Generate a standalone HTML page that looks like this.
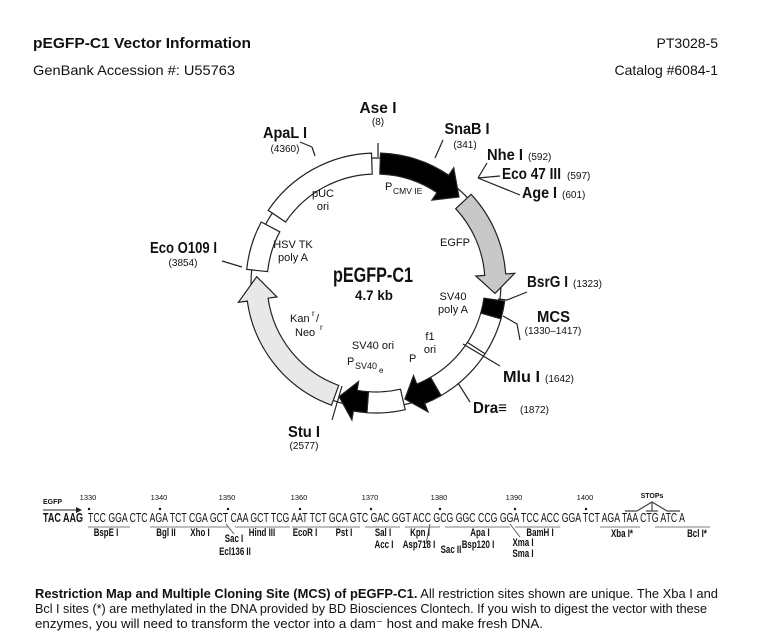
<!DOCTYPE html>
<html><head><meta charset="utf-8">
<style>
html,body{margin:0;padding:0;background:#fff;}
svg{display:block;}
text{font-family:"Liberation Sans",Arial,sans-serif;fill:#111;}
.b{font-weight:bold;}
</style></head>
<body>
<svg id="s" width="774" height="644" viewBox="0 0 774 644" xmlns="http://www.w3.org/2000/svg">
<text x="33" y="48" class="b" font-size="15" textLength="218" lengthAdjust="spacingAndGlyphs">pEGFP-C1 Vector Information</text>
<text x="718" y="48" font-size="14" text-anchor="end">PT3028-5</text>
<text x="33" y="75" font-size="14" textLength="202" lengthAdjust="spacingAndGlyphs">GenBank Accession #: U55763</text>
<text x="718" y="75" font-size="14" text-anchor="end">Catalog #6084-1</text>

<g id="map" stroke="#222" stroke-width="1.2"></g>

<g font-size="16" class="b">
<text x="378" y="113" text-anchor="middle" class="b" textLength="37" lengthAdjust="spacingAndGlyphs">Ase I</text>
<text x="467" y="134" text-anchor="middle" class="b" textLength="45" lengthAdjust="spacingAndGlyphs">SnaB I</text>
<text x="487" y="160" class="b" textLength="36" lengthAdjust="spacingAndGlyphs">Nhe I</text>
<text x="502" y="179" class="b" textLength="59" lengthAdjust="spacingAndGlyphs">Eco 47 III</text>
<text x="522" y="198" class="b" textLength="35" lengthAdjust="spacingAndGlyphs">Age I</text>
<text x="263" y="138" class="b" textLength="44" lengthAdjust="spacingAndGlyphs">ApaL I</text>
<text x="150" y="253" class="b" textLength="67" lengthAdjust="spacingAndGlyphs">Eco O109 I</text>
<text x="527" y="287" class="b" textLength="41" lengthAdjust="spacingAndGlyphs">BsrG I</text>
<text x="537" y="322" class="b" textLength="33" lengthAdjust="spacingAndGlyphs">MCS</text>
<text x="503" y="382" class="b" textLength="37" lengthAdjust="spacingAndGlyphs">Mlu I</text>
<text x="473" y="413" class="b" textLength="34" lengthAdjust="spacingAndGlyphs">Dra≡</text>
<text x="288" y="437" class="b" textLength="32" lengthAdjust="spacingAndGlyphs">Stu I</text>
</g>
<g font-size="10" fill="#333">
<text x="378" y="125" text-anchor="middle">(8)</text>
<text x="465" y="148" text-anchor="middle">(341)</text>
<text x="528" y="160">(592)</text>
<text x="567" y="179">(597)</text>
<text x="562" y="198">(601)</text>
<text x="285" y="152" text-anchor="middle">(4360)</text>
<text x="183" y="266" text-anchor="middle">(3854)</text>
<text x="573" y="287">(1323)</text>
<text x="553" y="334" text-anchor="middle">(1330–1417)</text>
<text x="545" y="382">(1642)</text>
<text x="520" y="413">(1872)</text>
<text x="304" y="449" text-anchor="middle">(2577)</text>
</g>
<g font-size="11">
<text x="385" y="190">P</text><text x="393" y="194" font-size="8.5">CMV  IE</text>
<text x="323" y="197" text-anchor="middle">pUC</text>
<text x="323" y="210" text-anchor="middle">ori</text>
<text x="455" y="246" text-anchor="middle">EGFP</text>
<text x="293" y="248" text-anchor="middle">HSV TK</text>
<text x="293" y="261" text-anchor="middle">poly A</text>
<text x="453" y="300" text-anchor="middle">SV40</text>
<text x="453" y="313" text-anchor="middle">poly A</text>
<text x="290" y="322">Kan</text><text x="312" y="316" font-size="8">r</text><text x="316" y="322">/</text>
<text x="295" y="336">Neo</text><text x="320" y="330" font-size="8">r</text>
<text x="430" y="340" text-anchor="middle">f1</text>
<text x="430" y="353" text-anchor="middle">ori</text>
<text x="373" y="349" text-anchor="middle">SV40 ori</text>
<text x="347" y="365">P</text><text x="355" y="369" font-size="9">SV40</text><text x="379" y="373" font-size="8">e</text>
<text x="409" y="362">P</text>
</g>
<text x="373" y="282" text-anchor="middle" class="b" font-size="21" textLength="80" lengthAdjust="spacingAndGlyphs">pEGFP-C1</text>
<text x="374" y="300" text-anchor="middle" class="b" font-size="14" textLength="38" lengthAdjust="spacingAndGlyphs">4.7 kb</text>

<text x="43" y="504" class="b" font-size="7">EGFP</text>
<line x1="43" y1="510" x2="77" y2="510" stroke="#222" stroke-width="1"/>
<polygon points="76,507 82,510 76,513" fill="#222"/>
<g font-size="7.5" fill="#444">
<text x="88" y="500" text-anchor="middle">1330</text>
<text x="159" y="500" text-anchor="middle">1340</text>
<text x="227" y="500" text-anchor="middle">1350</text>
<text x="299" y="500" text-anchor="middle">1360</text>
<text x="370" y="500" text-anchor="middle">1370</text>
<text x="439" y="500" text-anchor="middle">1380</text>
<text x="514" y="500" text-anchor="middle">1390</text>
<text x="585" y="500" text-anchor="middle">1400</text>
</g>
<g fill="#111">
<circle cx="89" cy="509" r="1.2"/><circle cx="160" cy="509" r="1.2"/><circle cx="228" cy="509" r="1.2"/><circle cx="300" cy="509" r="1.2"/><circle cx="371" cy="509" r="1.2"/><circle cx="440" cy="509" r="1.2"/><circle cx="515" cy="509" r="1.2"/><circle cx="586" cy="509" r="1.2"/>
</g>
<text x="652" y="498" text-anchor="middle" class="b" font-size="7">STOPs</text>
<polyline points="625,511 637,511 652,502 667,511 680,511" fill="none" stroke="#444" stroke-width="1.2"/>
<line x1="652" y1="502" x2="652" y2="511" stroke="#444" stroke-width="1.2"/>
<line x1="646" y1="511" x2="658" y2="511" stroke="#444" stroke-width="1.2"/>
<text x="43" y="522" class="b" font-size="13" textLength="40" lengthAdjust="spacingAndGlyphs">TAC AAG</text>
<text x="88" y="522" font-size="13" textLength="597" lengthAdjust="spacingAndGlyphs">TCC GGA CTC AGA TCT CGA GCT CAA GCT TCG AAT TCT GCA GTC GAC GGT ACC GCG GGC CCG GGA TCC ACC GGA TCT AGA TAA CTG ATC A</text>
<g stroke="#aaa" stroke-width="1.5">
<line x1="88" y1="527" x2="130" y2="527"/><line x1="150" y1="527" x2="228" y2="527"/>
<line x1="235" y1="527" x2="290" y2="527"/><line x1="292" y1="527" x2="340" y2="527"/>
<line x1="330" y1="527" x2="360" y2="527"/><line x1="365" y1="527" x2="400" y2="527"/>
<line x1="405" y1="527" x2="440" y2="527"/><line x1="445" y1="527" x2="510" y2="527"/>
<line x1="515" y1="527" x2="560" y2="527"/><line x1="600" y1="527" x2="640" y2="527"/>
<line x1="655" y1="527" x2="710" y2="527"/>
</g>
<g stroke="#444" stroke-width="0.8">
<line x1="226" y1="524" x2="234" y2="534"/><line x1="430" y1="524" x2="426" y2="544"/><line x1="510" y1="524" x2="520" y2="537"/>
</g>
<g id="seql" font-size="11" class="b" text-anchor="middle">
<text x="106" y="536" class="b">BspE I</text>
<text x="166" y="536" class="b">Bgl II</text>
<text x="200" y="536" class="b">Xho I</text>
<text x="234" y="542" class="b">Sac I</text>
<text x="235" y="555" class="b">Ecl136 II</text>
<text x="262" y="536" class="b">Hind III</text>
<text x="305" y="536" class="b">EcoR I</text>
<text x="344" y="536" class="b">Pst I</text>
<text x="383" y="536" class="b">Sal I</text>
<text x="384" y="548" class="b">Acc I</text>
<text x="420" y="536" class="b">Kpn I</text>
<text x="419" y="548" class="b">Asp718 I</text>
<text x="451" y="553" class="b">Sac II</text>
<text x="480" y="536" class="b">Apa I</text>
<text x="478" y="548" class="b">Bsp120 I</text>
<text x="523" y="546" class="b">Xma I</text>
<text x="523" y="557" class="b">Sma I</text>
<text x="540" y="536" class="b">BamH I</text>
<text x="622" y="537" class="b">Xba I*</text>
<text x="697" y="537" class="b">Bcl I*</text>
</g>

<text x="35" y="598" font-size="13" textLength="683" lengthAdjust="spacingAndGlyphs"><tspan class="b">Restriction Map and Multiple Cloning Site (MCS) of pEGFP-C1.</tspan>  All restriction sites shown are unique. The  Xba  I and</text>
<text x="35" y="613" font-size="13" textLength="672" lengthAdjust="spacingAndGlyphs">Bcl  I sites (*) are methylated in the DNA provided by BD Biosciences Clontech. If you wish to digest the vector with these</text>
<text x="35" y="628" font-size="13" textLength="508" lengthAdjust="spacingAndGlyphs">enzymes, you will need to transform the vector into a   dam⁻ host and make fresh DNA.</text>
</svg>
<script>
(function(){
var cx=376,cy=283,Ro=130,Ri=109,Rl=125;
var g=document.getElementById('map');
function P(a,r){var t=a*Math.PI/180;return [(cx+r*Math.sin(t)).toFixed(1),(cy-r*Math.cos(t)).toFixed(1)];}
function add(tag,at){var e=document.createElementNS('http://www.w3.org/2000/svg',tag);for(var k in at)e.setAttribute(k,at[k]);g.appendChild(e);return e;}
function seg(a1,a2,fill){
 var p1=P(a1,Ro),p2=P(a2,Ro),p3=P(a2,Ri),p4=P(a1,Ri);var lg=(a2-a1)>180?1:0;
 add('path',{d:'M'+p1+' A'+Ro+' '+Ro+' 0 '+lg+' 1 '+p2+' L'+p3+' A'+Ri+' '+Ri+' 0 '+lg+' 0 '+p4+' Z',fill:fill});
}
function arrow(a1,ah,at,fill){
 var e=9;var rm=(Ro+Ri)/2;
 var p1=P(a1,Ro),p2=P(ah,Ro),p3=P(ah,Ro+e),tip=P(at,rm),p5=P(ah,Ri-e),p6=P(ah,Ri),p7=P(a1,Ri);var lg=(ah-a1)>180?1:0;
 add('path',{d:'M'+p1+' A'+Ro+' '+Ro+' 0 '+lg+' 1 '+p2+' L'+p3+' L'+tip+' L'+p5+' L'+p6+' A'+Ri+' '+Ri+' 0 '+lg+' 0 '+p7+' Z',fill:fill});
}
add('circle',{cx:cx,cy:cy,r:Rl,fill:'none'});
seg(304,358,'#fff');
arrow(2,34,44,'#000');
arrow(47,86,95,'#c8c8c8');
seg(106,150,'#fff');
seg(98,106,'#000');
arrow(150,158,166,'#000');
seg(167,184,'#fff');
arrow(184,190,198,'#000');
arrow(200,262,273,'#e8e8e8');
seg(276,298,'#fff');
function ln(pts){add('polyline',{points:pts,fill:'none'});}
ln('378,143 378,157');
ln('443,140 435,158');
ln('478,178 487,163');ln('478,178 500,176');ln('478,178 520,195');
ln('312,147 315,156');ln('300,142 312,147');
ln('222,261 242,267');
ln('527,292 507,300 498,299');
ln('520,340 517,324 503,316');
ln('500,366 463,344');
ln('470,402 458,383');
ln('332,420 342,386');
var t=P(123,Ri),u=P(123,Ro);ln(t+' '+u);
var ts=document.querySelectorAll('#seql text');
for(var i=0;i<ts.length;i++){var w=ts[i].getComputedTextLength();ts[i].setAttribute('textLength',(w*0.72).toFixed(1));ts[i].setAttribute('lengthAdjust','spacingAndGlyphs');}
})();
</script>
</body></html>
